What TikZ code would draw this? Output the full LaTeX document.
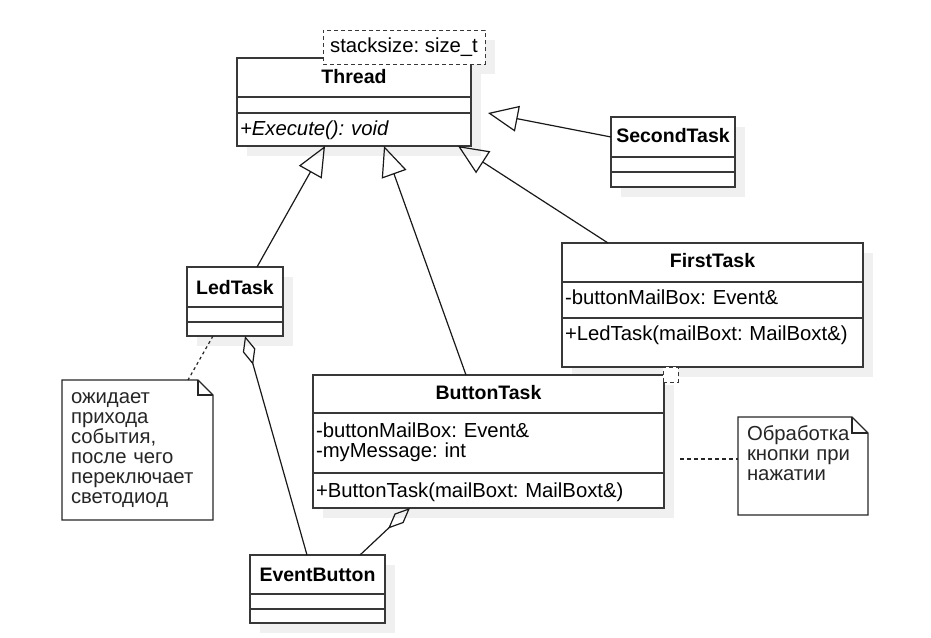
\documentclass[tikz,border=0pt]{standalone}
\usepackage{fontspec}
\setmainfont{Liberation Sans}
\usetikzlibrary{
  arrows.meta,
  positioning,
  calc,
  shadows,
  backgrounds,
}
\frenchspacing
\newcommand{\headfont}{\fontsize{19.5}{20}\selectfont\bfseries}
\newcommand{\partfont}{\fontsize{20.3}{20}\selectfont}

\begin{document}
\begin{tikzpicture}[
  x=1pt, y=-1pt,
  boxshadow/.style={
    drop shadow={shadow xshift=10pt, shadow yshift=-10pt, fill=black!6, opacity=1},
  },
  classhead/.style={
    draw=black!78, fill=white, line width=1.5pt, boxshadow,
    inner sep=0pt, outer sep=0pt, font=\headfont, anchor=north west,
  },
  classpart/.style={
    draw=black!78, fill=white, line width=1.5pt, boxshadow,
    inner xsep=3pt, inner ysep=0pt, outer sep=0pt, font=\partfont, align=left,
  },
  tparam/.style={
    draw=black!78, fill=white, line width=1pt, dash pattern=on 4pt off 3pt,
    inner sep=0pt, outer sep=0pt, font=\partfont,
  },
  umlnote/.style={
    fill=white, inner xsep=9pt, inner ysep=0pt, outer sep=0pt,
    font=\partfont, text=black!85, align=left, anchor=north west,
  },
  noteline/.style={draw=black!85, line width=1.3pt},
  notelink/.style={draw=black!85, line width=1.2pt, dash pattern=on 3pt off 3pt},
  inherit/.style={
    -{Triangle[open, length=30pt, width=26pt]}, line width=1.2pt, draw=black!90,
  },
  aggreg/.style={
    {Diamond[open, length=30pt, width=13pt]}-, line width=1.2pt, draw=black!90,
  },
]
  \useasboundingbox (0,0) rectangle (931,637);

  % --- Thread ---
  \node[classhead, minimum width=234pt, text height=25pt, text depth=14pt] (thread) at (237,58) {Thread};
  \node[classpart, text width=228pt, minimum height=16pt, below=0pt of thread] (thread-a) {};
  \node[classpart, text width=228pt, text height=22pt, text depth=11pt, below=0pt of thread-a] (thread-m) {\itshape +Execute(): void};
  \begin{scope}[on background layer]
    \fill[black!6] (333,40) rectangle (495,74);
  \end{scope}
  \node[tparam, minimum width=162pt, minimum height=34pt] (thread-t) at (404,47) {stacksize: size\_t};

  % --- SecondTask ---
  \node[classhead, minimum width=124pt, text height=25pt, text depth=15pt] (second) at (611,117) {SecondTask};
  \node[classpart, text width=118pt, minimum height=15pt, below=0pt of second] (second-a) {};
  \node[classpart, text width=118pt, minimum height=15pt, below=0pt of second-a] (second-m) {};

  % --- FirstTask ---
  \node[classhead, minimum width=301pt, text height=24pt, text depth=15pt] (first) at (562,243) {FirstTask};
  \node[classpart, text width=295pt, text height=22pt, text depth=14pt, below=0pt of first] (first-a) {-buttonMailBox: Event\&};
  \node[classpart, text width=295pt, text height=22pt, text depth=27pt, below=0pt of first-a] (first-m) {+LedTask(mailBoxt: MailBoxt\&)};

  % --- LedTask ---
  \node[classhead, minimum width=96pt, text height=27pt, text depth=13pt] (led) at (187,267) {LedTask};
  \node[classpart, text width=90pt, minimum height=15pt, below=0pt of led] (led-a) {};
  \node[classpart, text width=90pt, minimum height=14pt, below=0pt of led-a] (led-m) {};

  % --- ButtonTask ---
  \node[classhead, minimum width=351pt, text height=24pt, text depth=14pt] (button) at (313,375) {ButtonTask};
  \node[classpart, text width=345pt, text height=24pt, text depth=36pt, below=0pt of button] (button-a) {-buttonMailBox: Event\&\\-myMessage: int};
  \node[classpart, text width=345pt, text height=24pt, text depth=11pt, below=0pt of button-a] (button-m) {+ButtonTask(mailBoxt: MailBoxt\&)};
  \node[tparam, minimum width=15pt, minimum height=15pt] (button-t) at (670.5,374.5) {};

  % --- EventButton ---
  \node[classhead, minimum width=135pt, text height=26pt, text depth=13pt] (event) at (250,555) {EventButton};
  \node[classpart, text width=129pt, minimum height=15pt, below=0pt of event] (event-a) {};
  \node[classpart, text width=129pt, minimum height=14pt, below=0pt of event-a] (event-m) {};

  % --- notes ---
  \node[umlnote, text width=133pt, text height=23pt, text depth=117pt] (note1) at (62,380)
    {ожидает\\прихода\\события,\\после чего\\переключает\\светодиод};
  \draw[noteline] (note1.north west) -- ($(note1.north east)+(-15,0)$) -- ($(note1.north east)+(0,15)$)
    -- (note1.south east) -- (note1.south west) -- cycle;
  \draw[noteline] ($(note1.north east)+(-15,0)$) -- ++(0,15) -- ($(note1.north east)+(0,15)$);

  \node[umlnote, text width=112pt, text height=23pt, text depth=75pt] (note2) at (738,417)
    {Обработка\\кнопки при\\нажатии};
  \draw[noteline] (note2.north west) -- ($(note2.north east)+(-16,0)$) -- ($(note2.north east)+(0,16)$)
    -- (note2.south east) -- (note2.south west) -- cycle;
  \draw[noteline] ($(note2.north east)+(-16,0)$) -- ++(0,16) -- ($(note2.north east)+(0,16)$);

  % --- generalisation ---
  \draw[inherit] (second.west) -- ($(thread-a.south east)+(17,0)$);
  \draw[inherit] ($(first.north west)+(46,0)$) -- ($(thread-m.south east)+(-13,0)$);
  \draw[inherit] ($(led.north west)+(70,0)$) -- ($(thread-m.south west)+(88,0)$);
  \draw[inherit] ($(button.north west)+(153,0)$) -- ($(thread-m.south west)+(147,0)$);

  % --- aggregation ---
  \draw[aggreg] ($(led-m.south west)+(58,0)$) -- ($(event.north west)+(57,0)$);
  \draw[aggreg] ($(button-m.south west)+(97,0)$) -- ($(event.north west)+(110,0)$);

  % --- note links ---
  \coordinate (button-r) at ($(button-a.south east)+(16,-14)$);
  \draw[notelink] ($(led-m.south west)+(26,0)$) -- ($(note1.north west)+(126,0)$);
  \draw[notelink, dash pattern=on 4pt off 3pt] (button-r) -- ($(note2.north west)+(0,42)$);
\end{tikzpicture}
\end{document}
